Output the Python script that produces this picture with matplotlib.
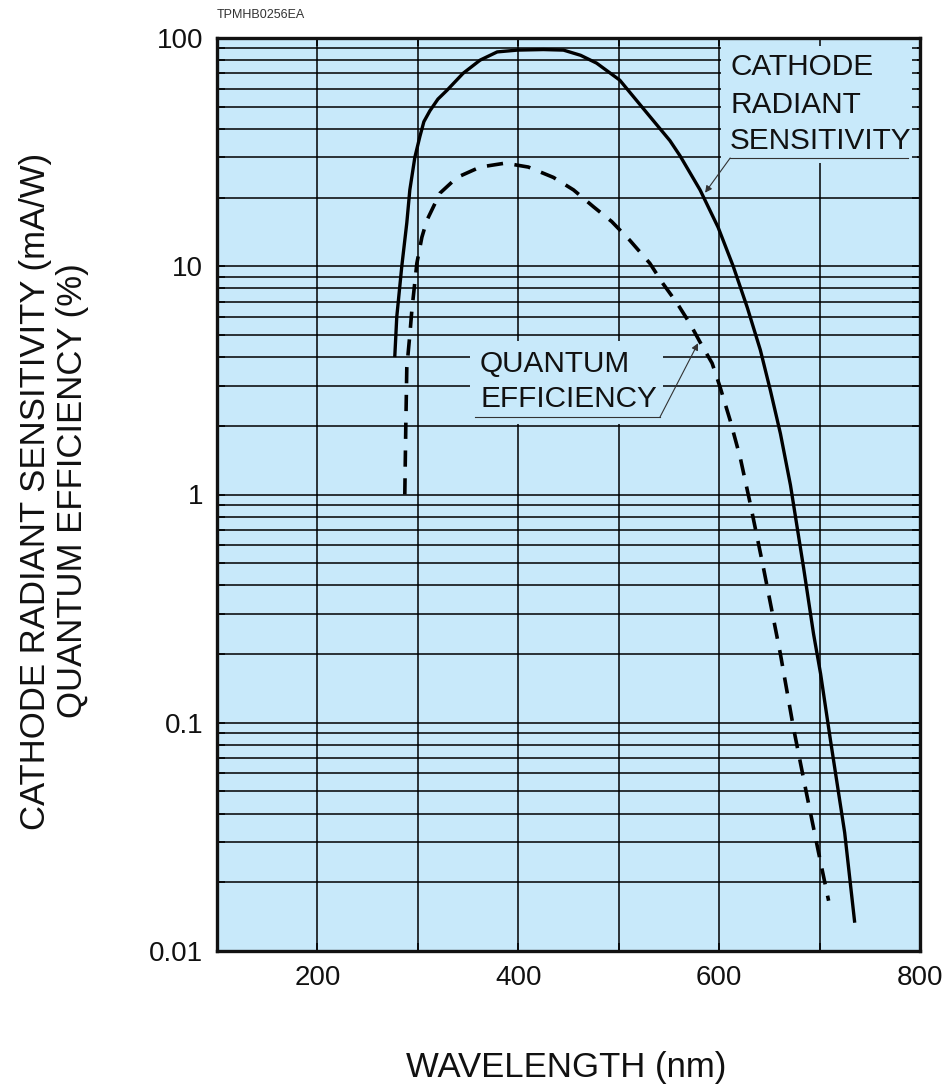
import numpy as np
import matplotlib.pyplot as plt
from matplotlib.patches import Rectangle
from matplotlib.ticker import MultipleLocator, FuncFormatter, LogLocator

plt.rcParams['font.family'] = ['Liberation Sans', 'DejaVu Sans']

# cathode radiant sensitivity (mA/W)
wl_sens = [277, 279, 284, 289, 292, 297, 302, 306, 312, 320, 329, 345, 362, 379, 399, 425,
           445, 462, 478, 501, 528, 551, 561, 581, 599, 614, 628, 641, 651, 661,
           671, 684, 694, 701, 711, 725, 735]
sens = [4.0, 6.0, 10, 15.5, 21.6, 30, 37, 43, 48, 54, 59, 70, 80, 86.9, 88.5, 89,
        88.5, 84, 77.6, 65.4, 47, 35.5, 30.5, 21.6, 14.8, 10, 6.6, 4.3, 2.86, 1.85,
        1.1, 0.48, 0.245, 0.164, 0.083, 0.033, 0.0133]

# quantum efficiency (%)
wl_qe = [287, 288, 289, 292, 294, 299, 304, 309, 322, 339, 362, 387, 410, 435,
         455, 475, 493, 511, 531, 544, 558, 571, 581, 593, 601, 611, 621, 631,
         644, 661, 674, 687, 699, 709]
qe = [1.0, 2.0, 3.6, 5.0, 6.4, 10.3, 13.4, 15.9, 20.9, 24.5, 27.2, 28.3, 27.2, 24.5,
      21.6, 18.2, 15.7, 13, 10.3, 8.4, 6.9, 5.6, 4.65, 3.76, 2.95, 2.11, 1.45, 0.91,
      0.48, 0.20, 0.095, 0.049, 0.027, 0.0166]

bg = '#c8e9fa'

fig = plt.figure(figsize=(9.53, 10.89), dpi=100)
pos = [217/953, 1-951/1089, (920-217)/953, (951-38)/1089]
ax = fig.add_axes(pos)
ax.set_facecolor(bg)
ax.set_yscale('log')
ax.set_xlim(100, 800)
ax.set_ylim(0.01, 100)

ax.xaxis.set_major_locator(MultipleLocator(100))
ax.xaxis.set_major_formatter(FuncFormatter(lambda v, p: '%d' % v if v % 200 == 0 and v > 100 else ''))
ax.yaxis.set_major_locator(LogLocator(base=10, numticks=10))
ax.yaxis.set_minor_locator(LogLocator(base=10, subs=np.arange(2, 10), numticks=20))
ax.yaxis.set_major_formatter(FuncFormatter(lambda v, p: '%g' % v))
ax.yaxis.set_minor_formatter(FuncFormatter(lambda v, p: ''))

ax.grid(True, which='both', color='black', lw=1.1, zorder=0.5)
ax.set_axisbelow(True)
ax.tick_params(which='both', length=0, labelsize=20, colors='#111')
ax.tick_params(axis='y', pad=10)
ax.tick_params(axis='x', pad=10)

# label boxes hiding the grid
ax.add_patch(Rectangle((602, 28.3), 195, 100 - 28.3, facecolor=bg, edgecolor='none', zorder=1))
ax.add_patch(Rectangle((352, 2.03), 192, 4.7 - 2.03, facecolor=bg, edgecolor='none', zorder=1))

ax.plot(wl_sens, sens, color='black', lw=2.4, zorder=3,
        solid_joinstyle='round', solid_capstyle='butt')
ax.plot(wl_qe, qe, color='black', lw=2.6, ls=(0, (4.5, 3.2)), zorder=3,
        dash_joinstyle='round')

tkw = dict(fontsize=21.4, color='#111', zorder=4)
ax.text(611, 68.9, 'CATHODE', va='baseline', **tkw)
ax.text(611, 46.9, 'RADIANT', va='baseline', **tkw)
ax.text(611, 32.6, 'SENSITIVITY', va='baseline', **tkw)
ax.plot([611, 788], [29.8, 29.8], color='#333', lw=0.8, zorder=4)
ax.annotate('', xy=(586, 21.0), xytext=(611, 29.8),
            arrowprops=dict(arrowstyle='-|>', color='#333', lw=0.8,
                            mutation_scale=10, shrinkA=0, shrinkB=0), zorder=4)

ax.text(362, 3.43, 'QUANTUM', va='baseline', **tkw)
ax.text(362, 2.41, 'EFFICIENCY', va='baseline', **tkw)
ax.plot([357, 541], [2.18, 2.18], color='#333', lw=0.8, zorder=4)
ax.annotate('', xy=(579, 4.6), xytext=(541, 2.18),
            arrowprops=dict(arrowstyle='-|>', color='#333', lw=0.8,
                            mutation_scale=10, shrinkA=0, shrinkB=0), zorder=4)

for s in ax.spines.values():
    s.set_visible(False)

# overlay for frame and inward ticks
ov = fig.add_axes(pos, sharex=ax, sharey=ax)
ov.patch.set_visible(False)
ov.tick_params(which='both', direction='in', top=True, right=True, left=True, bottom=True,
               labelleft=False, labelbottom=False, color='black')
ov.tick_params(which='major', length=6, width=1.1)
ov.tick_params(which='minor', length=6, width=1.1)
for s in ov.spines.values():
    s.set_linewidth(2.4)
    s.set_color('#111')

fig.text(54/953, 1-491/1089, 'CATHODE RADIANT SENSITIVITY (mA/W)\nQUANTUM EFFICIENCY (%)',
         rotation=90, ha='center', va='center', multialignment='center',
         fontsize=25, color='#111', linespacing=1.15)
fig.text(566/953, 1-1068/1089, 'WAVELENGTH (nm)', ha='center', va='center',
         fontsize=25, color='#111')
fig.text(217/953, 1-15/1089, 'TPMHB0256EA', ha='left', va='center', fontsize=9, color='#333')

fig.savefig('out.png', dpi=100)
